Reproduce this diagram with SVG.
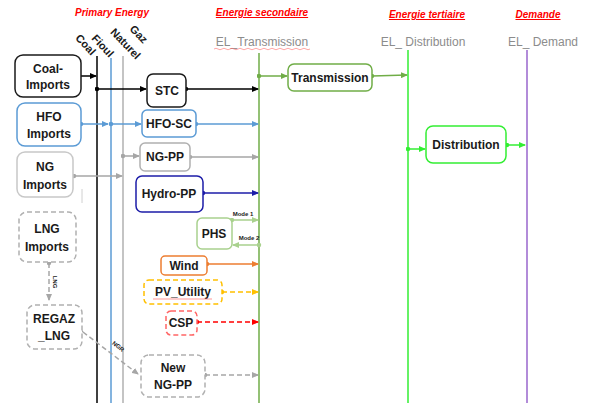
<svg xmlns="http://www.w3.org/2000/svg" width="589" height="403" viewBox="0 0 589 403">
<style>
text{font-family:"Liberation Sans",Arial,sans-serif}
.t{font-size:12px;font-weight:bold;fill:#1a1a1a;text-anchor:middle}
.h{font-size:10px;font-weight:bold;font-style:italic;fill:#ff0000;text-anchor:middle}
.u{text-decoration:underline}
.el{font-size:12px;fill:#8c8c8c;text-anchor:middle}
.rot{font-size:11px;font-weight:bold;fill:#1a1a1a;text-anchor:end}
.sm{font-size:6px;font-weight:bold;fill:#1a1a1a;text-anchor:middle}
.box{fill:#fff;stroke-width:1.5}
.ds{stroke-dasharray:5 3}
.c{fill:none;stroke-width:1.5}
</style>
<defs>
<marker id="ak" markerWidth="7" markerHeight="6" refX="6" refY="3" orient="auto" markerUnits="userSpaceOnUse"><path d="M0,0L7,3L0,6z" fill="#000"/></marker>
<marker id="ab" markerWidth="7" markerHeight="6" refX="6" refY="3" orient="auto" markerUnits="userSpaceOnUse"><path d="M0,0L7,3L0,6z" fill="#5b9bd5"/></marker>
<marker id="ag" markerWidth="7" markerHeight="6" refX="6" refY="3" orient="auto" markerUnits="userSpaceOnUse"><path d="M0,0L7,3L0,6z" fill="#a6a6a6"/></marker>
<marker id="an" markerWidth="7" markerHeight="6" refX="6" refY="3" orient="auto" markerUnits="userSpaceOnUse"><path d="M0,0L7,3L0,6z" fill="#1c1ca8"/></marker>
<marker id="al" markerWidth="7" markerHeight="6" refX="6" refY="3" orient="auto" markerUnits="userSpaceOnUse"><path d="M0,0L7,3L0,6z" fill="#a9d18e"/></marker>
<marker id="ao" markerWidth="7" markerHeight="6" refX="6" refY="3" orient="auto" markerUnits="userSpaceOnUse"><path d="M0,0L7,3L0,6z" fill="#ed7d31"/></marker>
<marker id="ay" markerWidth="7" markerHeight="6" refX="6" refY="3" orient="auto" markerUnits="userSpaceOnUse"><path d="M0,0L7,3L0,6z" fill="#ffc000"/></marker>
<marker id="ar" markerWidth="7" markerHeight="6" refX="6" refY="3" orient="auto" markerUnits="userSpaceOnUse"><path d="M0,0L7,3L0,6z" fill="#ff0000"/></marker>
<marker id="at" markerWidth="7" markerHeight="6" refX="6" refY="3" orient="auto" markerUnits="userSpaceOnUse"><path d="M0,0L7,3L0,6z" fill="#70ad47"/></marker>
<marker id="av" markerWidth="7" markerHeight="6" refX="6" refY="3" orient="auto" markerUnits="userSpaceOnUse"><path d="M0,0L7,3L0,6z" fill="#33ee33"/></marker>
<marker id="dk" markerWidth="5" markerHeight="5" refX="2.5" refY="2.5" markerUnits="userSpaceOnUse"><circle cx="2.5" cy="2.5" r="2.2" fill="#000"/></marker>
<marker id="db" markerWidth="5" markerHeight="5" refX="2.5" refY="2.5" markerUnits="userSpaceOnUse"><circle cx="2.5" cy="2.5" r="2.2" fill="#5b9bd5"/></marker>
<marker id="dg" markerWidth="5" markerHeight="5" refX="2.5" refY="2.5" markerUnits="userSpaceOnUse"><circle cx="2.5" cy="2.5" r="2.2" fill="#a6a6a6"/></marker>
<marker id="dn" markerWidth="5" markerHeight="5" refX="2.5" refY="2.5" markerUnits="userSpaceOnUse"><circle cx="2.5" cy="2.5" r="2.2" fill="#1c1ca8"/></marker>
<marker id="dl" markerWidth="5" markerHeight="5" refX="2.5" refY="2.5" markerUnits="userSpaceOnUse"><circle cx="2.5" cy="2.5" r="2.2" fill="#a9d18e"/></marker>
<marker id="do" markerWidth="5" markerHeight="5" refX="2.5" refY="2.5" markerUnits="userSpaceOnUse"><circle cx="2.5" cy="2.5" r="2.2" fill="#ed7d31"/></marker>
<marker id="dy" markerWidth="5" markerHeight="5" refX="2.5" refY="2.5" markerUnits="userSpaceOnUse"><circle cx="2.5" cy="2.5" r="2.2" fill="#ffc000"/></marker>
<marker id="dr" markerWidth="5" markerHeight="5" refX="2.5" refY="2.5" markerUnits="userSpaceOnUse"><circle cx="2.5" cy="2.5" r="2.2" fill="#ff0000"/></marker>
<marker id="dt" markerWidth="5" markerHeight="5" refX="2.5" refY="2.5" markerUnits="userSpaceOnUse"><circle cx="2.5" cy="2.5" r="2.2" fill="#70ad47"/></marker>
<marker id="dv" markerWidth="5" markerHeight="5" refX="2.5" refY="2.5" markerUnits="userSpaceOnUse"><circle cx="2.5" cy="2.5" r="2.2" fill="#33ee33"/></marker>
</defs>
<rect width="589" height="403" fill="#fff"/>

<g id="headers">
<text class="h" x="112" y="16">Primary Energy</text>
<text class="h u" x="262" y="16">Energie secondaire</text>
<text class="h u" x="427" y="18">Energie tertiaire</text>
<text class="h u" x="538" y="18">Demande</text>
<text class="el" x="262" y="46">EL_Transmission</text>
<path d="M214,49 q2,-1.5 4,0 t4,0 t4,0 t4,0 t4,0 t4,0 t4,0 t4,0 t4,0 t4,0 t4,0 t4,0 t4,0 t4,0 t4,0 t4,0 t4,0 t4,0 t4,0 t4,0 t4,0 t4,0 t4,0 t4,0" fill="none" stroke="#ff6b6b" stroke-width="0.6"/>
<text class="el" x="423" y="46">EL_ Distribution</text>
<text class="el" x="543" y="46">EL_ Demand</text>
<text class="rot" transform="translate(91,56) rotate(47)">Coal</text>
<text class="rot" transform="translate(109,58) rotate(47)">Fioul</text>
<text class="rot" transform="translate(136,60) rotate(46)">Naturel</text>
<text class="rot" transform="translate(143,44) rotate(46)">Gaz</text>
</g>

<g id="connectors">
<line x1="97" y1="56" x2="97" y2="403" stroke="#000" stroke-width="1.5"/>
<line x1="111" y1="58" x2="111" y2="403" stroke="#5b9bd5" stroke-width="1.5"/>
<line x1="123" y1="56" x2="123" y2="403" stroke="#b0b0b0" stroke-width="1.5"/>
<line x1="259" y1="53" x2="259" y2="403" stroke="#70ad47" stroke-width="1.5"/>
<line x1="408" y1="50" x2="408" y2="403" stroke="#33ee33" stroke-width="1.5"/>
<line x1="527" y1="50" x2="527" y2="403" stroke="#9966cc" stroke-width="1.5"/>
<line x1="82" y1="189" x2="82" y2="203" stroke="#d0d0d0" stroke-width="1"/>

<path class="c" d="M80,76H96" stroke="#000" marker-end="url(#ak)"/>
<path class="c" d="M97,89H146" stroke="#000" marker-start="url(#dk)" marker-end="url(#ak)"/>
<path class="c" d="M186,89H258" stroke="#000" marker-start="url(#dk)" marker-end="url(#ak)"/>
<path class="c" d="M81,124H108" stroke="#5b9bd5" marker-start="url(#db)" marker-end="url(#ab)"/>
<path class="c" d="M111,124H141" stroke="#5b9bd5" marker-start="url(#db)" marker-end="url(#ab)"/>
<path class="c" d="M196,124H258" stroke="#5b9bd5" marker-start="url(#db)" marker-end="url(#ab)"/>
<path class="c" d="M74,176H122" stroke="#a6a6a6" marker-start="url(#dg)" marker-end="url(#ag)"/>
<path class="c" d="M123,156H139" stroke="#a6a6a6" marker-start="url(#dg)" marker-end="url(#ag)"/>
<path class="c" d="M190,157H258" stroke="#a6a6a6" marker-start="url(#dg)" marker-end="url(#ag)"/>
<path class="c" d="M203,193H258" stroke="#1c1ca8" marker-start="url(#dn)" marker-end="url(#an)"/>
<path class="c" d="M232,220H258" stroke="#a9d18e" marker-start="url(#dl)" marker-end="url(#al)"/>
<path class="c" d="M259,245H233" stroke="#a9d18e" marker-start="url(#dl)" marker-end="url(#al)"/>
<text class="sm" x="243" y="216">Mode 1</text>
<text class="sm" x="249" y="240">Mode 2</text>
<path class="c" d="M207,264H258" stroke="#ed7d31" marker-start="url(#do)" marker-end="url(#ao)"/>
<path class="c ds" d="M222,292H258" stroke="#ffc000" marker-start="url(#dy)" marker-end="url(#ay)"/>
<path class="c ds" d="M197,322H258" stroke="#ff0000" marker-start="url(#dr)" marker-end="url(#ar)"/>
<path class="c ds" d="M205,375H258" stroke="#a6a6a6" marker-start="url(#dg)" marker-end="url(#ag)"/>
<path class="c ds" d="M49,263V300" stroke="#a6a6a6" marker-start="url(#dg)" marker-end="url(#ag)"/>
<text class="sm" transform="translate(53,282) rotate(90)">LNG</text>
<path class="c ds" d="M83,332L138,374" stroke="#a6a6a6" marker-start="url(#ag)" marker-end="url(#ag)"/>
<text class="sm" transform="translate(117,348) rotate(38)">NGR</text>
<path class="c" d="M259,76H287" stroke="#70ad47" marker-start="url(#dt)" marker-end="url(#at)"/>
<path class="c" d="M372,76L407,75" stroke="#70ad47" marker-start="url(#dt)" marker-end="url(#at)"/>
<path class="c" d="M408,149H425" stroke="#33ee33" marker-start="url(#dv)" marker-end="url(#av)"/>
<path class="c" d="M507,145H525" stroke="#33ee33" marker-start="url(#dv)" marker-end="url(#av)"/>
</g>

<g id="coal-imports"><rect class="box" x="15" y="55" width="66" height="42" rx="8" stroke="#1a1a1a"/><text class="t" x="48" y="73">Coal-</text><text class="t" x="48" y="89">Imports</text></g>
<g id="hfo-imports"><rect class="box" x="17" y="103" width="64" height="43" rx="8" stroke="#5b9bd5"/><text class="t" x="49" y="121">HFO</text><text class="t" x="49" y="138">Imports</text></g>
<g id="ng-imports"><rect class="box" x="17" y="152" width="56" height="45" rx="8" stroke="#c8c8c8"/><text class="t" x="45" y="171">NG</text><text class="t" x="45" y="189">Imports</text></g>
<g id="lng-imports"><rect class="box ds" x="19" y="212" width="57" height="50" rx="8" stroke="#b0b0b0"/><text class="t" x="47" y="233">LNG</text><text class="t" x="47" y="251">Imports</text></g>
<g id="regaz-lng"><rect class="box ds" x="27" y="305" width="55" height="44" rx="8" stroke="#b0b0b0"/><text class="t" x="54" y="323">REGAZ</text><text class="t" x="54" y="340">_LNG</text></g>
<g id="stc"><rect class="box" x="147" y="74" width="39" height="33" rx="6" stroke="#1a1a1a"/><text class="t" x="167" y="95">STC</text></g>
<g id="hfo-sc"><rect class="box" x="142" y="110" width="54" height="27" rx="5" stroke="#5b9bd5"/><text class="t" x="169" y="128">HFO-SC</text></g>
<g id="ng-pp"><rect class="box" x="140" y="143" width="50" height="28" rx="5" stroke="#b0b0b0"/><text class="t" x="165" y="161">NG-PP</text></g>
<g id="hydro-pp"><rect class="box" x="136" y="176" width="67" height="36" rx="6" stroke="#1c1ca8"/><text class="t" x="169" y="198">Hydro-PP</text></g>
<g id="phs"><rect class="box" x="197" y="218" width="35" height="31" rx="5" stroke="#a9d18e"/><text class="t" x="214" y="238">PHS</text></g>
<g id="wind"><rect class="box" x="161" y="256" width="46" height="19" rx="4" stroke="#ed7d31"/><text class="t" x="184" y="270">Wind</text></g>
<g id="pv-utility"><rect class="box ds" x="144" y="280" width="78" height="24" rx="5" stroke="#ffc000"/><text class="t" x="183" y="296">PV_Utility</text><line x1="153" y1="299" x2="212" y2="299" stroke="#ff6b6b" stroke-width="0.7"/></g>
<g id="csp"><rect class="box ds" x="166" y="311" width="31" height="24" rx="5" stroke="#ff6666"/><text class="t" x="181" y="327">CSP</text></g>
<g id="new-ng-pp"><rect class="box ds" x="141" y="355" width="64" height="42" rx="8" stroke="#b0b0b0"/><text class="t" x="173" y="372">New</text><text class="t" x="173" y="389">NG-PP</text></g>
<g id="transmission"><rect class="box" x="288" y="64" width="84" height="27" rx="6" stroke="#70ad47"/><text class="t" x="330" y="82">Transmission</text></g>
<g id="distribution"><rect class="box" x="426" y="126" width="80" height="37" rx="7" stroke="#33ee33"/><text class="t" x="466" y="149">Distribution</text></g>
</svg>
